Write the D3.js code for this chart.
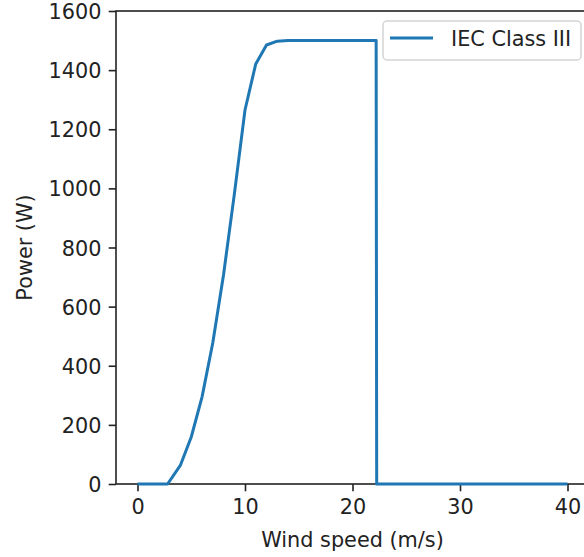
<!DOCTYPE html>
<html>
<head>
<meta charset="utf-8">
<script src="https://cdn.jsdelivr.net/npm/d3@7"></script>
<style>
  body { margin: 0; background: #fff; overflow: hidden; }
  svg { font-family: "DejaVu Sans", sans-serif; }
</style>
</head>
<body>
<div id="chart"></div>
<script>
// Power curve, IEC Class III
const windSpeed = [0, 1, 2, 2.8, 4, 5, 6, 7, 8, 9, 10, 11, 12, 13, 14, 15, 16, 17, 18, 19, 20, 21, 22, 22.2, 22.25, 25, 30, 35, 40]
const power = [0, 0, 0, 0, 64, 159, 294, 477, 707, 978, 1265, 1421, 1485, 1498, 1500, 1500, 1500, 1500, 1500, 1500, 1500, 1500, 1500, 1500, 0, 0, 0, 0, 0]
const xTicks = [0, 10, 20, 30, 40]
const yTicks = [0, 200, 400, 600, 800, 1000, 1200, 1400, 1600]
const seriesName = 'IEC Class III'

const width = 584
const height = 557
const margin = { top: 11, right: -5, bottom: 73, left: 116 }
const fontSize = 20.8

const svg = d3.select('#chart')
  .append('svg')
  .attr('width', width)
  .attr('height', height)

const x = d3.scaleLinear().domain([-2, 42]).range([margin.left, width - margin.right])
const y = d3.scaleLinear().domain([0, 1600]).range([height - margin.bottom, margin.top])

// Axes
const xAxis = svg.append('g')
  .attr('transform', `translate(0, ${height - margin.bottom})`)
  .call(d3.axisBottom(x).tickValues(xTicks).tickFormat(d3.format('d')).tickSize(7.3).tickPadding(7.3))
const yAxis = svg.append('g')
  .attr('transform', `translate(${margin.left}, 0)`)
  .call(d3.axisLeft(y).tickValues(yTicks).tickFormat(d3.format('d')).tickSize(7.3).tickPadding(7.3))

for (const ax of [xAxis, yAxis]) {
  ax.selectAll('text').attr('font-size', fontSize).attr('fill', '#222').attr('font-family', 'DejaVu Sans')
  ax.selectAll('line').attr('stroke', '#222').attr('stroke-width', 1.6)
  ax.select('.domain').remove()
}
xAxis.selectAll('text').attr('dy', '0.76em')
yAxis.selectAll('text').attr('dy', '0.36em')

// Spines
svg.append('rect')
  .attr('x', x(-2))
  .attr('y', y(1600))
  .attr('width', x(42) - x(-2))
  .attr('height', y(0) - y(1600))
  .attr('fill', 'none')
  .attr('stroke', '#222')
  .attr('stroke-width', 1.6)

// Line
const line = d3.line()
  .x((d, i) => x(windSpeed[i]))
  .y(d => y(d))

svg.append('path')
  .datum(power)
  .attr('d', line)
  .attr('fill', 'none')
  .attr('stroke', '#1f77b4')
  .attr('stroke-width', 3)
  .attr('stroke-linejoin', 'round')

// Axis labels
svg.append('text')
  .attr('x', (x(-2) + x(42)) / 2)
  .attr('y', 547)
  .attr('text-anchor', 'middle')
  .attr('font-size', fontSize)
  .attr('fill', '#222')
  .text('Wind speed (m/s)')

svg.append('text')
  .attr('transform', `translate(32, ${(y(0) + y(1600)) / 2}) rotate(-90)`)
  .attr('text-anchor', 'middle')
  .attr('font-size', fontSize)
  .attr('fill', '#222')
  .text('Power (W)')

// Legend
const legend = svg.append('g').attr('transform', 'translate(383, 21)')
legend.append('rect')
  .attr('width', 198)
  .attr('height', 39)
  .attr('rx', 4)
  .attr('fill', '#fff')
  .attr('fill-opacity', 0.8)
  .attr('stroke', '#d4d4d4')
  .attr('stroke-width', 1.5)
legend.append('line')
  .attr('x1', 7).attr('x2', 50)
  .attr('y1', 17).attr('y2', 17)
  .attr('stroke', '#1f77b4')
  .attr('stroke-width', 3)
legend.append('text')
  .attr('x', 68)
  .attr('y', 25)
  .attr('font-size', fontSize)
  .attr('fill', '#222')
  .text(seriesName)
</script>
</body>
</html>
